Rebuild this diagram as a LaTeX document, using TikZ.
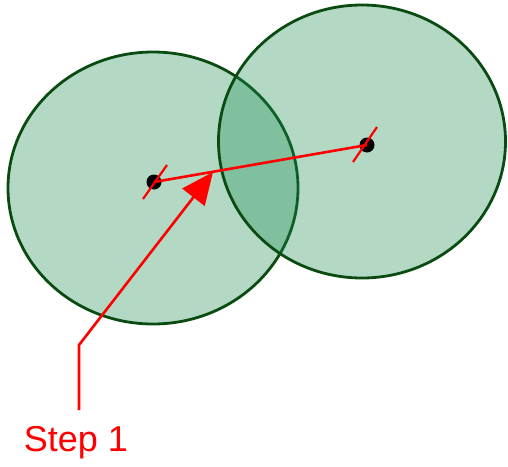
\documentclass[tikz,border=0pt]{standalone}
\usepackage{fontspec}
\setmainfont{Liberation Sans}
\usetikzlibrary{shapes.geometric,arrows.meta}
\definecolor{zonefill}{RGB}{25,140,79}
\definecolor{zoneline}{RGB}{10,75,18}
\begin{document}
\begin{tikzpicture}[x=1pt,y=-1pt,
  zone/.style={ellipse,draw=zoneline,line width=2.8pt,fill=zonefill,fill opacity=0.33,inner sep=0pt},
  dotmark/.style={circle,fill=black,minimum size=15pt,inner sep=0pt},
  redline/.style={draw=red,line width=2.6pt},
  tickline/.style={draw=red,line width=2.2pt},
  steplabel/.style={text=red,font=\fontsize{36}{42}\selectfont,inner sep=0pt}]
\useasboundingbox (0,0) rectangle (508,466);
\node[zone,minimum width=290pt,minimum height=272pt] (c1) at (153,188) {};
\node[zone,minimum width=287pt,minimum height=273pt] (c2) at (362,141.5) {};
\node[dotmark] (d1) at (154,182) {};
\node[dotmark] (d2) at (367,145) {};
\draw[redline] (d1.center) -- (d2.center);
\coordinate (t1a) at (143,199);
\coordinate (t1b) at (167,165);
\coordinate (t2a) at (353,162);
\coordinate (t2b) at (377,127);
\draw[tickline] (t1a) -- (t1b);
\draw[tickline] (t2a) -- (t2b);
\node[steplabel,anchor=base] (lbl) at (76,451) {Step 1};
\coordinate (s) at (79,410);
\coordinate (k) at (79,345);
\coordinate (tip) at (213,172);
\draw[redline,-{Triangle[length=32pt,width=28pt]}] (s) -- (k) -- (tip);
\end{tikzpicture}
\end{document}
